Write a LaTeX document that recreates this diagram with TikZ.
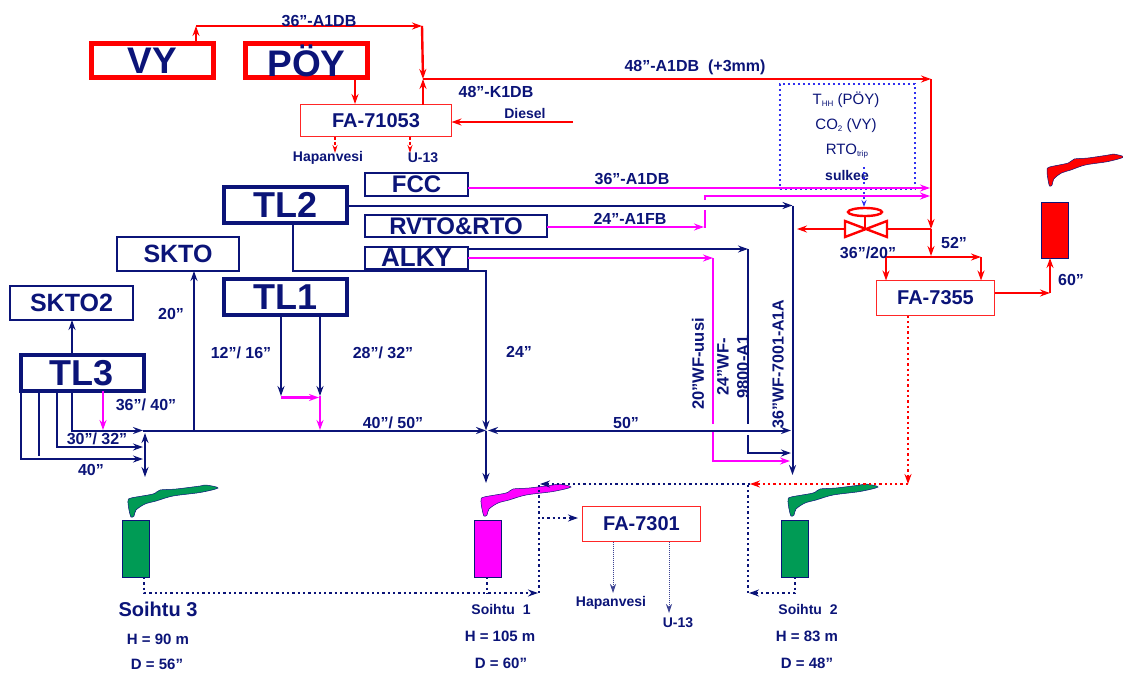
\documentclass[tikz,border=0pt]{standalone}
\usepackage{fontspec}
\setmainfont{Liberation Sans}
\usetikzlibrary{arrows.meta}
\definecolor{navy}{HTML}{0B1478}
\definecolor{flaregreen}{HTML}{009B55}
\definecolor{trackblue}{HTML}{3030F0}
\definecolor{mag}{HTML}{FF00FF}
\definecolor{pure}{HTML}{FF0000}
\newcommand{\lowtxt}[1]{\raisebox{-2pt}{\fontsize{8}{8}\selectfont #1}}
\begin{document}
\begin{tikzpicture}[x=1pt, y=-1pt, >={Stealth[length=10pt,width=7pt]},
    every node/.style={text=navy, inner sep=0pt, outer sep=0pt},
    redbox/.style={draw=pure, line width=4.5pt, minimum height=34pt, font=\bfseries\fontsize{37}{37}\selectfont},
    tlbox/.style={draw=navy, line width=4pt, minimum width=123pt, minimum height=36pt, font=\bfseries\fontsize{36}{36}\selectfont},
    unitbox/.style={draw=navy, line width=2pt, font=\bfseries\fontsize{24}{24}\selectfont},
    vessel/.style={draw=pure!85!white, line width=1.3pt, font=\bfseries\fontsize{20}{20}\selectfont},
    stack/.style={draw=navy, line width=1pt, minimum width=27pt, minimum height=57pt},
    lbl/.style={font=\bfseries\fontsize{16}{16}\selectfont},
    sidelbl/.style={rotate=90, font=\bfseries\fontsize{16.5}{20}\selectfont, align=center},
    small/.style={font=\bfseries\fontsize{14}{14}\selectfont},
    data/.style={font=\bfseries\fontsize{15}{15}\selectfont},
    info/.style={font=\fontsize{15}{15}\selectfont},
    redline/.style={draw=pure, line width=2.4pt},
    redthin/.style={draw=pure, line width=1.3pt, densely dashed, >={Stealth[length=8pt,width=5pt]}},
    reddot/.style={draw=pure, line width=2.3pt, dash pattern=on 2.3pt off 3pt},
    navline/.style={draw=navy, line width=2pt},
    magline/.style={draw=mag, line width=2.2pt},
    magthin/.style={draw=mag, line width=1.5pt},
    navdot/.style={draw=navy, line width=2.3pt, dash pattern=on 2.3pt off 3pt},
    navthin/.style={draw=navy!80, line width=.8pt, dash pattern=on 1pt off 1pt, >={Stealth[length=9pt,width=6pt]}},
    bluedot/.style={draw=trackblue, line width=2pt, dash pattern=on 2pt off 3pt},
    flame/.pic={\filldraw[draw=navy, line width=.5pt, pic actions] plot[smooth cycle, tension=.5] coordinates
        {(0,0) (3,-3) (25,-7) (32,-11) (48,-12) (72,-15) (78,-16) (90,-13) (72,-8.5) (45,-5) (28,0) (17,3) (8,9) (6,15) (3,16) (1,9)};}]

    \useasboundingbox (0,0) rectangle (1123,673);

    % sources
    \node[redbox, minimum width=122pt] (vy) at (152.5,60.5) {VY};
    \node[redbox, minimum width=122pt] (poy) at (306.5,60.5) {PÖY};
    \node[vessel, minimum width=151pt, minimum height=32pt] (fa71053) at (376,120.5) {FA-71053};
    \node[tlbox] (tl2) at (285.5,205) {TL2};
    \node[tlbox] (tl1) at (285.5,297) {TL1};
    \node[tlbox] (tl3) at (82,373) {TL3};
    \node[unitbox, minimum width=103pt, minimum height=23pt] (fcc) at (416.5,184.5) {FCC};
    \node[unitbox, minimum width=182pt, minimum height=22pt] (rvto) at (456,226) {RVTO\&RTO};
    \node[unitbox, minimum width=103pt, minimum height=22pt, font=\bfseries\fontsize{26}{26}\selectfont] (alky) at (416.5,258) {ALKY};
    \node[unitbox, minimum width=122pt, minimum height=34pt, font=\bfseries\fontsize{25}{25}\selectfont] (skto) at (178,254) {SKTO};
    \node[unitbox, minimum width=123pt, minimum height=34pt, font=\bfseries\fontsize{25}{25}\selectfont] (skto2) at (71.5,303) {SKTO2};

    % vessels
    \node[vessel, minimum width=118pt, minimum height=35pt] (fa7355) at (935.5,298) {FA-7355};
    \node[vessel, minimum width=118pt, minimum height=35pt] (fa7301) at (641.5,524) {FA-7301};

    % flares
    \node[stack, fill=flaregreen] (st3) at (135.5,548.5) {};
    \node[stack, fill=mag] (st1) at (488,548.5) {};
    \node[stack, fill=flaregreen] (st2) at (795,548.5) {};
    \node[stack, fill=pure, minimum height=56pt] (st4) at (1055,230) {};
    \pic[fill=flaregreen] at (128,501) {flame};
    \pic[fill=mag] at (481,500) {flame};
    \pic[fill=flaregreen] at (788,500) {flame};
    \pic[fill=pure, xscale=.85] at (1047,170) {flame};

    % bends
    \coordinate (topl) at (196,26);
    \coordinate (topr) at (422,26);
    \coordinate (mix) at (423,79);
    \coordinate (cor) at (931,79);
    \coordinate (rmid) at (931,229);
    \coordinate (rend) at (931,256);
    \coordinate (rl) at (886,257);
    \coordinate (rr) at (981,257);
    \coordinate (dsl) at (573,122);
    \coordinate (py) at (355,104);
    \coordinate (h1) at (335,153);
    \coordinate (u1) at (410,153);
    \coordinate (vleft) at (845,229);
    \coordinate (vlefta) at (845,221);
    \coordinate (vleftb) at (845,237);
    \coordinate (vright) at (887,229);
    \coordinate (vrighta) at (887,221);
    \coordinate (vrightb) at (887,237);
    \coordinate (vout) at (797,229);
    \coordinate (vtop) at (865,212);
    \coordinate (vstem) at (865,216);
    \coordinate (vmid) at (865,229);
    \coordinate (o60) at (1050,293);
    \coordinate (j1) at (486,430.5);
    \coordinate (j1d) at (486,483);
    \coordinate (tj) at (293,271);
    \coordinate (tk) at (486,271);
    \coordinate (n36) at (792.5,205.5);
    \coordinate (n36e) at (792.5,475);
    \coordinate (a24) at (748,249);
    \coordinate (a24a) at (748,424);
    \coordinate (a24b) at (748,435);
    \coordinate (a24c) at (748,453);
    \coordinate (a24e) at (791,453);
    \coordinate (a20) at (713,258);
    \coordinate (a20a) at (713,424);
    \coordinate (a20b) at (713,432);
    \coordinate (a20c) at (713,461);
    \coordinate (a20e) at (790,461);
    \coordinate (f36) at (930,188);
    \coordinate (r24) at (704,227);
    \coordinate (r24a) at (705,210);
    \coordinate (r24b) at (705,200);
    \coordinate (r24e) at (930,196);
    \coordinate (ma) at (143,430.5);
    \coordinate (mb) at (145,433);
    \coordinate (mc) at (145,477);
    \coordinate (md) at (194,430.5);
    \coordinate (me) at (488,430.5);
    \coordinate (mf) at (791,430.5);
    \coordinate (ta) at (21,459);
    \coordinate (tae) at (143,459);
    \coordinate (tb) at (39,456);
    \coordinate (tc) at (57,447);
    \coordinate (tce) at (143,447);
    \coordinate (td) at (72,430.5);
    \coordinate (tm) at (103,430);
    \coordinate (p12) at (281,396);
    \coordinate (p28) at (320,396);
    \coordinate (pa) at (281,397.5);
    \coordinate (pb) at (319,397.5);
    \coordinate (pc) at (320,430);
    \coordinate (rd) at (908,484);
    \coordinate (rde) at (750,484);
    \coordinate (nde) at (540,484);
    \coordinate (dv) at (539,593);
    \coordinate (dve) at (538,593);
    \coordinate (d3) at (144,593);
    \coordinate (d1) at (487,593);
    \coordinate (d2) at (795,593);
    \coordinate (d2e) at (749,593);
    \coordinate (d2u) at (748,484);
    \coordinate (bra) at (542,518);
    \coordinate (brb) at (578,518);
    \coordinate (h2) at (613,593);
    \coordinate (u2) at (669,613);
    \coordinate (sena) at (864,167);
    \coordinate (senb) at (864,207);

    % tracking box
    \node[bluedot, minimum width=135pt, minimum height=105pt] (trip) at (847.5,136.5) {};
    \node[info] (thh) at (846,100) {T\lowtxt{HH} (PÖY)};
    \node[info] (co2) at (846,126) {CO\lowtxt{2} (VY)};
    \node[info] (rtotrip) at (847,151) {RTO\lowtxt{trip}};
    \node[small] (sulkee) at (847,175) {sulkee};
    \draw[bluedot, ->, >={Stealth[length=7pt,width=5pt]}] (sena) -- (senb);

    % red lines
    \draw[redline, ->] (vy.north -| topl) -- (topl);
    \draw[redline, ->] (topl) -- (topr);
    \draw[redline, ->] (topr) -- (mix);
    \draw[redline, ->] (poy.south -| py) -- (py);
    \draw[redline, ->] (fa71053.north -| mix) -- (mix);
    \draw[redline, ->] (mix) -- (cor);
    \draw[redline, ->] (cor) -- (rmid);
    \draw[redline, ->] (rmid) -- (rend);
    \draw[redline, line width=1.5pt, ->] (dsl) -- (fa71053.east |- dsl);
    \draw[redthin, ->] (fa71053.south -| h1) -- (h1);
    \draw[redthin, ->] (fa71053.south -| u1) -- (u1);
    \draw[redline, ->] (rl) -- (rr);
    \draw[redline, ->] (rl) -- (fa7355.north -| rl);
    \draw[redline, ->] (rr) -- (fa7355.north -| rr);
    \draw[redline, ->] (fa7355.east |- o60) -- (o60);
    \draw[redline, ->] (o60) -- (st4.south -| o60);

    % valve
    \draw[redline] (vlefta) -- (vleftb) -- (vrighta) -- (vrightb) -- cycle;
    \draw[redline] (vtop) ellipse (17 and 4);
    \draw[redline] (vstem) -- (vmid);
    \draw[redline] (rmid) -- (vright);
    \draw[redline, ->] (vleft) -- (vout);

    % navy lines
    \draw[navline, ->] (tl3.north -| td) -- (skto2.south -| td);
    \draw[navline, ->] (tl3.south -| ta) -- (ta) -- (tae);
    \draw[navline] (tl3.south -| tb) -- (tb);
    \draw[navline, ->] (tl3.south -| tc) -- (tc) -- (tce);
    \draw[navline, ->] (tl3.south -| td) -- (td) -- (ma);
    \draw[navline, ->] (ma) -- (j1);
    \draw[navline, <->] (mb) -- (mc);
    \draw[navline, ->] (md) -- (skto.south -| md);
    \draw[navline, ->] (tl1.south -| p12) -- (p12);
    \draw[navline, ->] (tl1.south -| p28) -- (p28);
    \draw[navline, ->] (tl2.south -| tj) -- (tj) -- (tk) -- (j1);
    \draw[navline, ->] (j1) -- (j1d);
    \draw[navline, <->] (me) -- (mf);
    \draw[navline, ->] (tl2.east |- n36) -- (n36);
    \draw[navline, ->] (n36) -- (n36e);
    \draw[navline, ->] (alky.east |- a24) -- (a24);
    \draw[navline] (a24) -- (a24a);
    \draw[navline, ->] (a24b) -- (a24c) -- (a24e);

    % magenta lines
    \draw[magline, ->] (tl3.south -| tm) -- (tm);
    \draw[magline, ->] (pa) -- (pb);
    \draw[magline, ->] (p28) -- (pc);
    \draw[magthin, ->] (fcc.east |- f36) -- (f36);
    \draw[magline, ->] (rvto.east |- r24) -- (r24);
    \draw[magthin] (r24) -| (r24a);
    \draw[magthin, ->] (r24b) |- (r24e);
    \draw[magthin, ->] (alky.east |- a20) -- (a20);
    \draw[magline] (a20) -- (a20a);
    \draw[magline, ->] (a20b) -- (a20c) -- (a20e);

    % dotted lines
    \draw[reddot, ->] (fa7355.south -| rd) -- (rd);
    \draw[reddot, ->] (rd) -- (rde);
    \draw[navdot, ->] (rde) -- (nde);
    \draw[navdot, ->] (st3.south -| d3) -- (d3) -- (dve);
    \draw[navdot] (st1.south -| d1) -- (d1);
    \draw[navdot] (dv) -- (nde -| dv);
    \draw[navdot, ->] (bra) -- (brb);
    \draw[navdot, ->] (st2.south -| d2) -- (d2) -- (d2e);
    \draw[navdot] (d2e -| d2u) -- (d2u);
    \draw[navthin, ->] (fa7301.south -| h2) -- (h2);
    \draw[navthin, ->] (fa7301.south -| u2) -- (u2);

    % line labels
    \node[lbl] (l36a) at (319,21) {36”-A1DB};
    \node[lbl] (l48k) at (496,92) {48”-K1DB};
    \node[lbl] (l48a) at (695,67) {48”-A1DB\ \ (+3mm)};
    \node[lbl] (l36d) at (632,179) {36”-A1DB};
    \node[lbl] (l24f) at (630,219) {24”-A1FB};
    \node[lbl] (l3620) at (868,253) {36”/20”};
    \node[lbl] (l52) at (954,243) {52”};
    \node[lbl] (l60) at (1071,280) {60”};
    \node[lbl] (l20) at (171,314) {20”};
    \node[lbl] (l1216) at (241,353) {12”/ 16”};
    \node[lbl] (l2832) at (383,353) {28”/ 32”};
    \node[lbl] (l24) at (519,352) {24”};
    \node[lbl] (l3640) at (146,405) {36”/ 40”};
    \node[lbl] (l3032) at (97,439) {30”/ 32”};
    \node[lbl] (l40) at (91,470) {40”};
    \node[lbl] (l4050) at (393,423) {40”/ 50”};
    \node[lbl] (l50) at (626,423) {50”};
    \node[sidelbl] (wf20) at (698,364) {20”WF-uusi};
    \node[sidelbl] (wf24) at (733,367) {24”WF-\\9800-A1};
    \node[sidelbl, font=\bfseries\fontsize{16}{16}\selectfont] (wf36) at (778,364) {36”WF-7001-A1A};
    \node[small] (diesel) at (525,113) {Diesel};
    \node[small] (hap1) at (328,158) {Hapanvesi};
    \node[small] (u131) at (423,158) {U-13};
    \node[small] (hap2) at (611,603) {Hapanvesi};
    \node[small] (u132) at (678,623) {U-13};

    % flare data
    \node[font=\bfseries\fontsize{20}{20}\selectfont] (so3) at (158,609) {Soihtu 3};
    \node[data] (h3) at (158,639) {H = 90 m};
    \node[data] (d56) at (157,664) {D = 56”};
    \node[small] (so1) at (501,609) {Soihtu\ \ 1};
    \node[data] (hs1) at (500,636) {H = 105 m};
    \node[data] (d60) at (501,663) {D = 60”};
    \node[small] (so2) at (808,609) {Soihtu\ \ 2};
    \node[data] (hs2) at (807,636) {H = 83 m};
    \node[data] (d48) at (807,663) {D = 48”};

\end{tikzpicture}
\end{document}
